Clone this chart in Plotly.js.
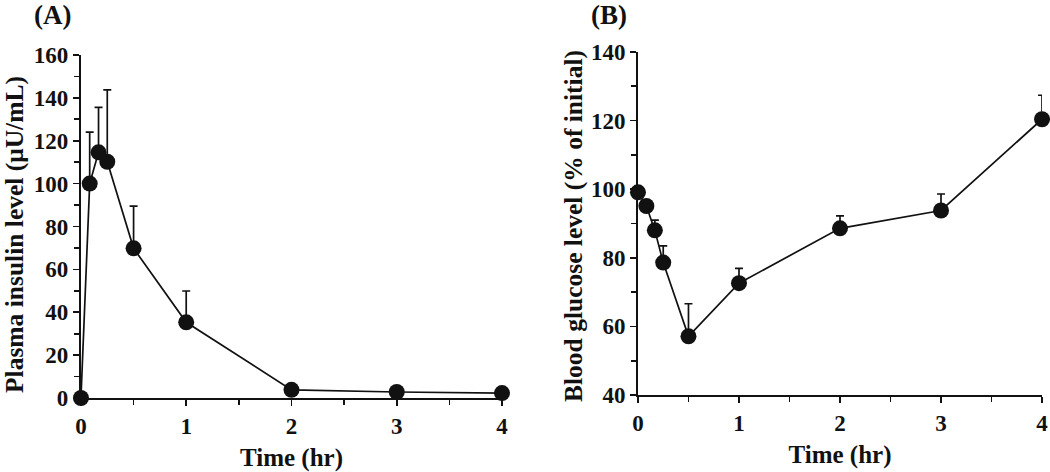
<!DOCTYPE html>
<html>
<head>
<meta charset="utf-8">
<script src="https://cdn.plot.ly/plotly-3.0.1.min.js"></script>
<style>html,body{margin:0;padding:0;background:#fff}#chart{width:1050px;height:472px}</style>
</head>
<body>
<div id="chart"></div>
<script>
// Panel A: plasma insulin
const timeA = [0, 0.083, 0.167, 0.25, 0.5, 1, 2, 3, 4];
const insulin = [0, 100, 114.6, 110.2, 69.8, 35.3, 3.8, 2.8, 2.3];
const insulinErr = [0, 24, 21, 33.5, 19.7, 14.6, 0, 0, 0];

// Panel B: blood glucose
const timeB = [0, 0.083, 0.167, 0.25, 0.5, 1, 2, 3, 4];
const glucose = [99.1, 95.1, 88.0, 78.6, 57.1, 72.6, 88.6, 93.8, 120.4];
const glucoseErr = [0, 0, 3, 4.9, 9.5, 4.3, 3.6, 4.8, 7];

const xTicks = [0, 1, 2, 3, 4];
const yTicksA = [0, 20, 40, 60, 80, 100, 120, 140, 160];
const yTicksB = [40, 60, 80, 100, 120, 140];
const titleA = 'Plasma insulin level (μU/mL)';
const titleB = 'Blood glucose level (% of initial)';
const xTitle = 'Time (hr)';

const FONT = 'Liberation Serif, Times New Roman, serif';
const tickFont = {family: FONT, size: 23, color: '#111', weight: 'bold'};
const titleFont = {family: FONT, size: 25, color: '#111', weight: 'bold'};
const yTitleFont = {family: FONT, size: 25.5, color: '#111', weight: 'bold'};
const panelFont = {family: FONT, size: 27, color: '#111', weight: 'bold'};

function series(x, y, err, xa, ya) {
  return {
    x: x, y: y, xaxis: xa, yaxis: ya, type: 'scatter', mode: 'lines+markers',
    cliponaxis: false,
    line: {color: '#111', width: 1.7},
    marker: {color: '#111', size: 16, symbol: 'circle'},
    error_y: {type: 'data', symmetric: false, array: err, arrayminus: err.map(() => 0),
              color: '#111', thickness: 1.7, width: 4},
    showlegend: false, hoverinfo: 'x+y'
  };
}

function xAxis(domain, anchor) {
  return {
    domain: domain, anchor: anchor, range: [0, 4], tickvals: xTicks, ticktext: xTicks.map(String),
    showline: true, linecolor: '#111', linewidth: 2, showgrid: false, zeroline: false,
    ticks: 'outside', ticklen: 6, tickwidth: 1.7, tickcolor: '#111',
    minor: {ticks: 'outside', dtick: 0.5, ticklen: 5, tickwidth: 1.7, tickcolor: '#111', showgrid: false},
    tickfont: tickFont,
    title: {text: xTitle, font: titleFont, standoff: 11}
  };
}
function yAxis(domain, anchor, range, vals, minorStep) {
  return {
    domain: domain, anchor: anchor, range: range, tickvals: vals, ticktext: vals.map(String),
    showline: true, linecolor: '#111', linewidth: 2, showgrid: false, zeroline: false,
    ticks: 'outside', ticklen: 6, tickwidth: 1.7, tickcolor: '#111',
    minor: {ticks: 'outside', dtick: minorStep, ticklen: 5, tickwidth: 1.7, tickcolor: '#111', showgrid: false},
    tickfont: tickFont
  };
}

const data = [
  series(timeA, insulin, insulinErr, 'x', 'y'),
  series(timeB, glucose, glucoseErr, 'x2', 'y2')
];

const layout = {
  width: 1050, height: 472,
  margin: {l: 0, r: 0, t: 0, b: 0},
  paper_bgcolor: '#fff', plot_bgcolor: '#fff',
  xaxis: xAxis([0.0771, 0.4781], 'y'),
  yaxis: yAxis([0.1568, 0.8835], 'x', [0, 160], yTicksA, 10),
  xaxis2: xAxis([0.6076, 0.9924], 'y2'),
  yaxis2: yAxis([0.1631, 0.8898], 'x2', [40, 140], yTicksB, 10),
  annotations: [
    {text: '(A)', xref: 'paper', yref: 'paper', x: 52 / 1050, y: 1 - 15 / 472, xanchor: 'center', yanchor: 'middle',
     showarrow: false, font: panelFont},
    {text: '(B)', xref: 'paper', yref: 'paper', x: 609 / 1050, y: 1 - 15 / 472, xanchor: 'center', yanchor: 'middle',
     showarrow: false, font: panelFont},
    {text: titleA, xref: 'paper', yref: 'paper', x: 14 / 1050, y: 1 - 235 / 472, xanchor: 'center', yanchor: 'middle',
     textangle: -90, showarrow: false, font: yTitleFont},
    {text: titleB, xref: 'paper', yref: 'paper', x: 573 / 1050, y: 1 - 226 / 472, xanchor: 'center', yanchor: 'middle',
     textangle: -90, showarrow: false, font: yTitleFont}
  ]
};

Plotly.newPlot('chart', data, layout, {displayModeBar: false, staticPlot: true});
</script>
</body>
</html>
